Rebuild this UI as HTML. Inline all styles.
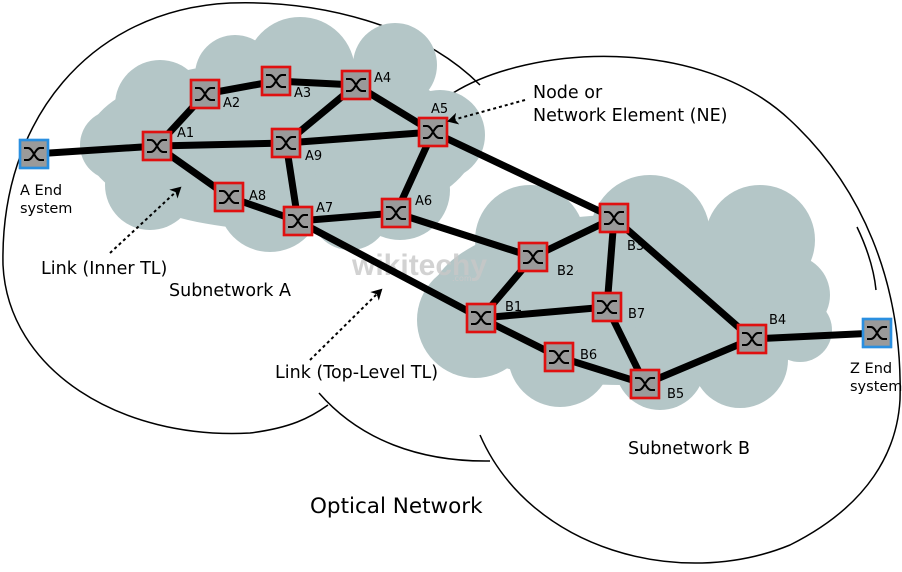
<!DOCTYPE html>
<html><head><meta charset="utf-8"><style>
html,body{margin:0;padding:0;background:#fff;}
svg{display:block;font-family:"DejaVu Sans","Liberation Sans",sans-serif;}
</style></head><body>
<svg width="902" height="572" viewBox="0 0 902 572" xmlns="http://www.w3.org/2000/svg">
<defs>
<g id="x">
<rect x="-14" y="-14" width="28" height="28" fill="#9a9a9a"/>
<path d="M-10,-6 h4 C-1,-6 1,6 6,6 h4 M-10,6 h4 C-1,6 1,-6 6,-6 h4" fill="none" stroke="#000" stroke-width="2"/>
</g>
<marker id="ah" markerWidth="12" markerHeight="12" refX="9" refY="6" orient="auto" markerUnits="userSpaceOnUse"><path d="M0,0 L11,6 L0,12 L3,6 z" fill="#000"/></marker>
</defs>
<g fill="none" stroke="#000" stroke-width="1.5">
<path d="M480,85 C420,25 320,0 230,3 C90,10 0,120 3,265 C8,370 120,440 250,433 C290,428 310,418 328,405"/>
<path d="M319,393 C360,440 420,462 490,461"/>
<path d="M453,93 C530,45 700,35 790,120 C860,185 903,280 900,400"/>
<path d="M480,435 C530,550 680,590 790,545 C870,505 897,450 900,400"/>
<path d="M857,227 C868,250 874,270 876,290"/>
</g>
<g fill="#b4c6c7">
<ellipse cx="280" cy="145" rx="195" ry="85"/>
<circle cx="160" cy="105" r="45"/>
<circle cx="300" cy="72" r="55"/>
<circle cx="395" cy="65" r="42"/>
<circle cx="235" cy="75" r="40"/>
<circle cx="150" cy="185" r="45"/>
<circle cx="270" cy="200" r="52"/>
<circle cx="400" cy="190" r="50"/>
<circle cx="440" cy="135" r="45"/>
<circle cx="115" cy="145" r="35"/>
<circle cx="350" cy="210" r="40"/>
</g>
<g fill="#b4c6c7">
<ellipse cx="620" cy="300" rx="190" ry="85"/>
<circle cx="530" cy="240" r="55"/>
<circle cx="650" cy="235" r="60"/>
<circle cx="760" cy="240" r="55"/>
<circle cx="790" cy="295" r="40"/>
<circle cx="475" cy="320" r="58"/>
<circle cx="560" cy="355" r="52"/>
<circle cx="660" cy="365" r="45"/>
<circle cx="740" cy="360" r="48"/>
<circle cx="800" cy="330" r="32"/>
</g>
<text x="352" y="275" font-size="30" font-weight="bold" fill="#c8c8c8" opacity="0.8" font-family="Liberation Sans,sans-serif">wikitechy</text>
<text x="452" y="281" font-size="8" fill="#c8c8c8">.com</text>
<g stroke="#000" stroke-width="7" fill="none">
<line x1="34" y1="154" x2="157" y2="146"/>
<line x1="157" y1="146" x2="205" y2="94"/>
<line x1="205" y1="94" x2="276" y2="81"/>
<line x1="276" y1="81" x2="356" y2="85"/>
<line x1="157" y1="146" x2="286" y2="143"/>
<line x1="286" y1="143" x2="433" y2="132"/>
<line x1="356" y1="85" x2="286" y2="143"/>
<line x1="356" y1="85" x2="433" y2="132"/>
<line x1="157" y1="146" x2="229" y2="197"/>
<line x1="229" y1="197" x2="298" y2="221"/>
<line x1="286" y1="143" x2="298" y2="221"/>
<line x1="298" y1="221" x2="396" y2="213"/>
<line x1="396" y1="213" x2="433" y2="132"/>
<line x1="433" y1="132" x2="614" y2="218"/>
<line x1="396" y1="213" x2="533" y2="257"/>
<line x1="298" y1="221" x2="481" y2="318"/>
<line x1="533" y1="257" x2="614" y2="218"/>
<line x1="481" y1="318" x2="533" y2="257"/>
<line x1="614" y1="218" x2="607" y2="307"/>
<line x1="614" y1="218" x2="752" y2="339"/>
<line x1="481" y1="318" x2="607" y2="307"/>
<line x1="481" y1="318" x2="559" y2="357"/>
<line x1="559" y1="357" x2="645" y2="384"/>
<line x1="607" y1="307" x2="645" y2="384"/>
<line x1="645" y1="384" x2="752" y2="339"/>
<line x1="752" y1="339" x2="877" y2="333"/>
</g>
<g stroke="#e01010" stroke-width="2.4" fill="none">
<use href="#x" x="157" y="146"/><rect x="143" y="132" width="28" height="28"/>
<use href="#x" x="205" y="94"/><rect x="191" y="80" width="28" height="28"/>
<use href="#x" x="276" y="81"/><rect x="262" y="67" width="28" height="28"/>
<use href="#x" x="356" y="85"/><rect x="342" y="71" width="28" height="28"/>
<use href="#x" x="433" y="132"/><rect x="419" y="118" width="28" height="28"/>
<use href="#x" x="286" y="143"/><rect x="272" y="129" width="28" height="28"/>
<use href="#x" x="229" y="197"/><rect x="215" y="183" width="28" height="28"/>
<use href="#x" x="298" y="221"/><rect x="284" y="207" width="28" height="28"/>
<use href="#x" x="396" y="213"/><rect x="382" y="199" width="28" height="28"/>
<use href="#x" x="614" y="218"/><rect x="600" y="204" width="28" height="28"/>
<use href="#x" x="533" y="257"/><rect x="519" y="243" width="28" height="28"/>
<use href="#x" x="481" y="318"/><rect x="467" y="304" width="28" height="28"/>
<use href="#x" x="607" y="307"/><rect x="593" y="293" width="28" height="28"/>
<use href="#x" x="559" y="357"/><rect x="545" y="343" width="28" height="28"/>
<use href="#x" x="645" y="384"/><rect x="631" y="370" width="28" height="28"/>
<use href="#x" x="752" y="339"/><rect x="738" y="325" width="28" height="28"/>
</g>
<g stroke="#2a8fe0" stroke-width="2.4" fill="none">
<use href="#x" x="34" y="154"/><rect x="20" y="140" width="28" height="28"/>
<use href="#x" x="877" y="333"/><rect x="863" y="319" width="28" height="28"/>
</g>
<g font-size="13" fill="#000">
<text x="177" y="137">A1</text><text x="223" y="107">A2</text><text x="294" y="97">A3</text>
<text x="374" y="82">A4</text><text x="431" y="113">A5</text><text x="305" y="160">A9</text>
<text x="249" y="200">A8</text><text x="316" y="212">A7</text><text x="415" y="205">A6</text>
<text x="627" y="250">B3</text><text x="557" y="275">B2</text><text x="505" y="311">B1</text>
<text x="628" y="318">B7</text><text x="580" y="359">B6</text><text x="667" y="398">B5</text>
<text x="769" y="324">B4</text>
</g>
<g font-size="14.5" fill="#000">
<text x="20" y="195">A End</text><text x="20" y="213">system</text>
<text x="850" y="373">Z End</text><text x="850" y="391">system</text>
</g>
<g font-size="17.5" fill="#000">
<text x="41" y="274">Link (Inner TL)</text>
<text x="169" y="296">Subnetwork A</text>
<text x="533" y="98">Node or</text>
<text x="533" y="121">Network Element (NE)</text>
<text x="275" y="378">Link (Top-Level TL)</text>
<text x="628" y="454">Subnetwork B</text>
</g>
<text x="310" y="513" font-size="21.5" fill="#000">Optical Network</text>
<g stroke="#000" stroke-width="2" stroke-dasharray="3,3" fill="none" marker-end="url(#ah)">
<line x1="110" y1="253" x2="180" y2="188"/>
<line x1="310" y1="360" x2="381" y2="290"/>
<line x1="525" y1="100" x2="449" y2="121"/>
</g>
</svg>
</body></html>
